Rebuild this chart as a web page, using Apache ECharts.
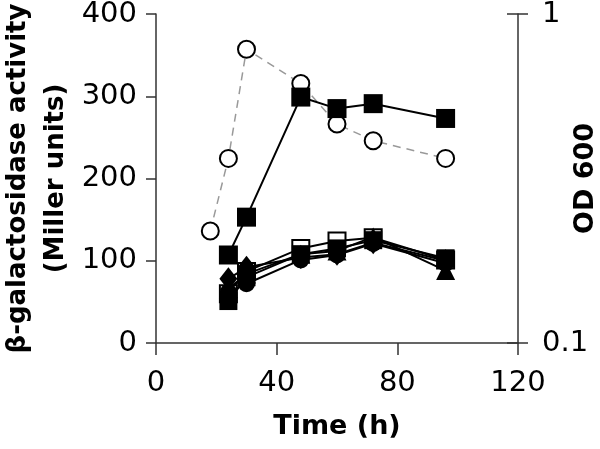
<!DOCTYPE html>
<html><head><meta charset="utf-8">
<script src="https://cdn.jsdelivr.net/npm/echarts@6/dist/echarts.min.js"></script>
<style>html,body{margin:0;padding:0;background:#fff}#c{width:600px;height:449px}</style>
</head><body><div id="c"></div>
<script>
// Time points (h)
const timeOD = [18, 24, 30, 48, 60, 72, 96];
const od600 = [0.219, 0.364, 0.781, 0.615, 0.463, 0.412, 0.364];
const timeB = [24, 30, 48, 60, 72, 96];
const actHighSq = [107, 153, 299, 285, 291, 273];   // filled squares (high)
const actLowSq  = [51, 80, 108, 115, 125, 103];     // filled squares (low)
const actOpenSq = [60, 87, 115, 124, 128, 101];     // open squares
const actDiamond = [78, 92, 104, 108, 122, 100];    // filled diamonds
const actCircle = [62, 72, 101, 107, 121, 97];      // filled circles
const actTriangle = [66, 84, 108, 112, 129, 88];    // filled triangles
const xTicks = [0, 40, 80, 120];
const leftTicks = [0, 100, 200, 300, 400];

const pair = (xs, ys) => xs.map((x, i) => [x, ys[i]]);
const FONT = 'DejaVu Sans';
const AX = '#333';

function actSeries(data, symbol, size, fill, z) {
  return {
    type: 'line', xAxisIndex: 0, yAxisIndex: 0, data: data,
    symbol: symbol, symbolSize: size, z: z,
    lineStyle: { color: '#000', width: 2 },
    itemStyle: { color: fill, borderColor: '#000', borderWidth: fill === '#fff' ? 2 : 0 },
    emphasis: { disabled: true }, animation: false
  };
}

const chart = echarts.init(document.getElementById('c'));
chart.setOption({
  animation: false,
  grid: { left: 156, right: 82, top: 14, bottom: 106, containLabel: false, outerBoundsMode: 'none' },
  xAxis: {
    type: 'value', min: xTicks[0], max: xTicks[xTicks.length - 1], interval: 40,
    name: 'Time (h)', nameLocation: 'middle', nameGap: 70, nameMoveOverlap: false,
    nameTextStyle: { fontFamily: FONT, fontWeight: 'bold', fontSize: 27, color: '#000' },
    axisLine: { lineStyle: { color: AX, width: 1.5 } },
    axisTick: { length: 12, lineStyle: { color: AX, width: 1.5 } },
    axisLabel: { fontFamily: FONT, fontSize: 29, color: '#000', margin: 26 },
    splitLine: { show: false }
  },
  yAxis: [
    {
      type: 'value', position: 'left', min: leftTicks[0], max: leftTicks[leftTicks.length - 1], interval: 100,
      name: 'β-galactosidase activity\n(Miller units)', nameLocation: 'middle', nameGap: 81, nameRotate: 90,
      nameMoveOverlap: false,
      nameTextStyle: { fontFamily: FONT, fontWeight: 'bold', fontSize: 26, color: '#000', lineHeight: 38 },
      axisLine: { show: true, lineStyle: { color: AX, width: 1.5 } },
      axisTick: { length: 10, lineStyle: { color: AX, width: 1.5 } },
      axisLabel: { fontFamily: FONT, fontSize: 29, color: '#000', margin: 19 },
      splitLine: { show: false }
    },
    {
      type: 'log', logBase: 10, position: 'right', min: 0.1, max: 1,
      name: 'OD 600', nameLocation: 'middle', nameGap: 54, nameRotate: 90, nameMoveOverlap: false,
      nameTextStyle: { fontFamily: FONT, fontWeight: 'bold', fontSize: 27, color: '#000' },
      axisLine: { show: true, lineStyle: { color: AX, width: 1.5 } },
      axisTick: { length: 10, lineStyle: { color: AX, width: 1.5 } },
      axisLabel: { fontFamily: FONT, fontSize: 29, color: '#000', margin: 24,
        formatter: v => String(+v.toPrecision(3)) },
      minorTick: { show: false },
      splitLine: { show: false }
    },
    {
      type: 'log', logBase: 10, position: 'right', min: 0.1, max: 1, offset: 0,
      axisLine: { show: false },
      axisTick: { inside: true, length: 11, lineStyle: { color: AX, width: 1.5 } },
      axisLabel: { show: false },
      splitLine: { show: false }
    }
  ],
  series: [
    {
      type: 'line', xAxisIndex: 0, yAxisIndex: 1, data: pair(timeOD, od600),
      symbol: 'circle', symbolSize: 17, z: 2,
      lineStyle: { color: '#999', width: 1.5, type: [8, 6] },
      itemStyle: { color: '#fff', borderColor: '#000', borderWidth: 2 },
      emphasis: { disabled: true }
    },
    actSeries(pair(timeB, actOpenSq), 'rect', 17, '#fff', 3),
    actSeries(pair(timeB, actLowSq), 'rect', 18, '#000', 4),
    actSeries(pair(timeB, actTriangle), 'triangle', 19, '#000', 5),
    actSeries(pair(timeB, actCircle), 'circle', 17, '#000', 6),
    actSeries(pair(timeB, actDiamond), 'diamond', [18, 23], '#000', 7),
    actSeries(pair(timeB, actHighSq), 'rect', 19, '#000', 8)
  ]
});
</script></body></html>
